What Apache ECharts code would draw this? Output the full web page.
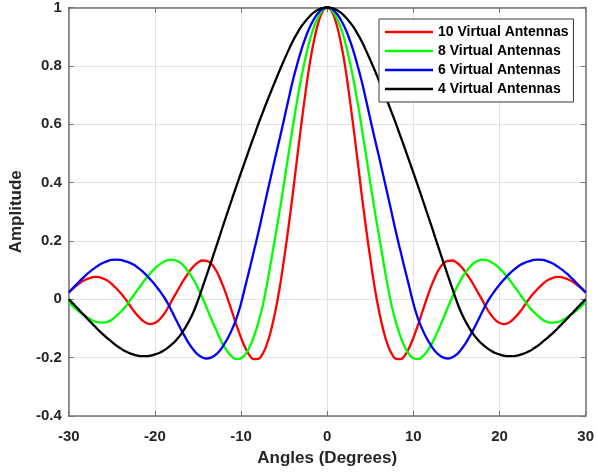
<!DOCTYPE html>
<html>
<head>
<meta charset="utf-8">
<script src="https://cdn.jsdelivr.net/npm/echarts@6/dist/echarts.min.js"></script>
<style>
  html, body { margin: 0; padding: 0; background: #ffffff; }
  #chart { width: 597px; height: 475px; }
</style>
</head>
<body>
<div id="chart"></div>
<script>
// Beam pattern of virtual arrays, amplitude versus steering angle (degrees), sampled every 0.5 degree
const angles = [
  -30, -29.5, -29, -28.5, -28, -27.5, -27, -26.5, -26, -25.5, -25, -24.5, -24, -23.5, -23, -22.5, -22, -21.5, -21, -20.5,
  -20, -19.5, -19, -18.5, -18, -17.5, -17, -16.5, -16, -15.5, -15, -14.5, -14, -13.5, -13, -12.5, -12, -11.5, -11, -10.5,
  -10, -9.5, -9, -8.5, -8, -7.5, -7, -6.5, -6, -5.5, -5, -4.5, -4, -3.5, -3, -2.5, -2, -1.5, -1, -0.5,
  0,
  0.5, 1, 1.5, 2, 2.5, 3, 3.5, 4, 4.5, 5, 5.5, 6, 6.5, 7, 7.5, 8, 8.5, 9, 9.5, 10,
  10.5, 11, 11.5, 12, 12.5, 13, 13.5, 14, 14.5, 15, 15.5, 16, 16.5, 17, 17.5, 18, 18.5, 19, 19.5, 20,
  20.5, 21, 21.5, 22, 22.5, 23, 23.5, 24, 24.5, 25, 25.5, 26, 26.5, 27, 27.5, 28, 28.5, 29, 29.5, 30
];

const tenAntennas = [
  0.023, 0.037, 0.049, 0.060, 0.068, 0.073, 0.077, 0.076, 0.071, 0.064, 0.052, 0.038, 0.022, 0.004, -0.017, -0.038, -0.056, -0.071, -0.081, -0.085,
  -0.081, -0.070, -0.053, -0.030, -0.003, 0.023, 0.049, 0.073, 0.095, 0.113, 0.126, 0.133, 0.132, 0.123, 0.104, 0.075, 0.039, -0.003, -0.047, -0.091,
  -0.132, -0.167, -0.193, -0.205, -0.204, -0.187, -0.154, -0.104, -0.038, 0.042, 0.140, 0.246, 0.360, 0.482, 0.600, 0.712, 0.813, 0.891, 0.951, 0.988,
  1,
  0.988, 0.951, 0.891, 0.813, 0.712, 0.600, 0.482, 0.360, 0.246, 0.140, 0.042, -0.038, -0.104, -0.154, -0.187, -0.204, -0.205, -0.193, -0.167, -0.132,
  -0.091, -0.047, -0.003, 0.039, 0.075, 0.104, 0.123, 0.132, 0.133, 0.126, 0.113, 0.095, 0.073, 0.049, 0.023, -0.003, -0.030, -0.053, -0.070, -0.081,
  -0.085, -0.081, -0.071, -0.056, -0.038, -0.017, 0.004, 0.022, 0.038, 0.052, 0.064, 0.071, 0.076, 0.077, 0.073, 0.068, 0.060, 0.049, 0.037, 0.023
];

const eightAntennas = [
  -0.010, -0.024, -0.037, -0.049, -0.060, -0.068, -0.076, -0.079, -0.080, -0.077, -0.070, -0.058, -0.044, -0.028, -0.008, 0.012, 0.033, 0.053, 0.073, 0.090,
  0.106, 0.119, 0.128, 0.134, 0.136, 0.132, 0.124, 0.109, 0.090, 0.066, 0.038, 0.006, -0.028, -0.064, -0.098, -0.131, -0.160, -0.182, -0.198, -0.205,
  -0.202, -0.188, -0.163, -0.127, -0.081, -0.024, 0.050, 0.133, 0.220, 0.307, 0.400, 0.496, 0.590, 0.679, 0.760, 0.830, 0.890, 0.936, 0.970, 0.992,
  1,
  0.992, 0.970, 0.936, 0.890, 0.830, 0.760, 0.679, 0.590, 0.496, 0.400, 0.307, 0.220, 0.133, 0.050, -0.024, -0.081, -0.127, -0.163, -0.188, -0.202,
  -0.205, -0.198, -0.182, -0.160, -0.131, -0.098, -0.064, -0.028, 0.006, 0.038, 0.066, 0.090, 0.109, 0.124, 0.132, 0.136, 0.134, 0.128, 0.119, 0.106,
  0.090, 0.073, 0.053, 0.033, 0.012, -0.008, -0.028, -0.044, -0.058, -0.070, -0.077, -0.080, -0.079, -0.076, -0.068, -0.060, -0.049, -0.037, -0.024, -0.010
];

const sixAntennas = [
  0.023, 0.039, 0.054, 0.069, 0.083, 0.096, 0.107, 0.117, 0.125, 0.131, 0.135, 0.136, 0.135, 0.131, 0.126, 0.119, 0.109, 0.097, 0.083, 0.067,
  0.050, 0.031, 0.010, -0.014, -0.043, -0.073, -0.102, -0.129, -0.154, -0.174, -0.190, -0.199, -0.203, -0.200, -0.191, -0.177, -0.156, -0.131, -0.100, -0.063,
  -0.014, 0.046, 0.105, 0.166, 0.228, 0.294, 0.360, 0.425, 0.490, 0.553, 0.618, 0.684, 0.748, 0.804, 0.855, 0.898, 0.934, 0.962, 0.983, 0.996,
  1,
  0.996, 0.983, 0.962, 0.934, 0.898, 0.855, 0.804, 0.748, 0.684, 0.618, 0.553, 0.490, 0.425, 0.360, 0.294, 0.228, 0.166, 0.105, 0.046, -0.014,
  -0.063, -0.100, -0.131, -0.156, -0.177, -0.191, -0.200, -0.203, -0.199, -0.190, -0.174, -0.154, -0.129, -0.102, -0.073, -0.043, -0.014, 0.010, 0.031, 0.050,
  0.067, 0.083, 0.097, 0.109, 0.119, 0.126, 0.131, 0.135, 0.136, 0.135, 0.131, 0.125, 0.117, 0.107, 0.096, 0.083, 0.069, 0.054, 0.039, 0.023
];

const fourAntennas = [
  0, -0.015, -0.030, -0.046, -0.061, -0.077, -0.092, -0.107, -0.121, -0.134, -0.146, -0.158, -0.168, -0.177, -0.184, -0.189, -0.193, -0.195, -0.195, -0.193,
  -0.189, -0.184, -0.176, -0.166, -0.154, -0.139, -0.121, -0.099, -0.073, -0.042, -0.004, 0.039, 0.082, 0.126, 0.170, 0.215, 0.260, 0.304, 0.348, 0.391,
  0.434, 0.476, 0.518, 0.559, 0.600, 0.639, 0.677, 0.714, 0.750, 0.786, 0.820, 0.853, 0.884, 0.911, 0.935, 0.954, 0.971, 0.984, 0.993, 0.998,
  1,
  0.998, 0.993, 0.984, 0.971, 0.954, 0.935, 0.911, 0.884, 0.853, 0.820, 0.786, 0.750, 0.714, 0.677, 0.639, 0.600, 0.559, 0.518, 0.476, 0.434,
  0.391, 0.348, 0.304, 0.260, 0.215, 0.170, 0.126, 0.082, 0.039, -0.004, -0.042, -0.073, -0.099, -0.121, -0.139, -0.154, -0.166, -0.176, -0.184, -0.189,
  -0.193, -0.195, -0.195, -0.193, -0.189, -0.184, -0.177, -0.168, -0.158, -0.146, -0.134, -0.121, -0.107, -0.092, -0.077, -0.061, -0.046, -0.030, -0.015, 0
];

const seriesNames = ['10 Virtual Antennas', '8 Virtual Antennas', '6 Virtual Antennas', '4 Virtual Antennas'];
const seriesValues = [tenAntennas, eightAntennas, sixAntennas, fourAntennas];
const seriesColors = ['#ff0000', '#00ff00', '#0000ff', '#000000'];

const FONT = '"Liberation Sans", Arial, Helvetica, sans-serif';
const AXIS_GREY = '#727272';
const TEXT_DARK = '#262626';

const chart = echarts.init(document.getElementById('chart'), null, { renderer: 'canvas' });

function pairs(values) {
  return angles.map((a, i) => [a, values[i]]);
}

// top and right axes close the box around the plot area
const boxAxisCommon = {
  axisLine: { show: true, onZero: false, lineStyle: { color: AXIS_GREY, width: 1.5 } },
  axisTick: { show: true, inside: true, length: 5, lineStyle: { color: AXIS_GREY, width: 1 } },
  axisLabel: { show: false },
  splitLine: { show: false }
};

const option = {
  animation: false,
  backgroundColor: '#ffffff',
  grid: { left: 68, right: 8, top: 6, bottom: 59, containLabel: false },
  legend: {
    data: seriesNames.map(n => ({ name: n, icon: 'rect' })),
    orient: 'vertical',
    left: 379,
    top: 19,
    padding: [6, 5, 6, 6],
    itemWidth: 48,
    itemHeight: 2.5,
    itemGap: 5,
    selectedMode: false,
    backgroundColor: '#ffffff',
    borderColor: '#3a3a3a',
    borderWidth: 1,
    textStyle: { fontFamily: FONT, fontWeight: 'bold', fontSize: 14, color: '#000000', lineHeight: 14 }
  },
  xAxis: [
    {
      type: 'value',
      min: -30, max: 30, interval: 10,
      position: 'bottom',
      name: 'Angles (Degrees)',
      nameLocation: 'middle',
      nameGap: 34,
      nameTextStyle: { fontFamily: FONT, fontWeight: 'bold', fontSize: 17, color: TEXT_DARK },
      axisLine: { show: true, onZero: false, lineStyle: { color: AXIS_GREY, width: 1.5 } },
      axisTick: { show: true, inside: true, length: 5, lineStyle: { color: AXIS_GREY, width: 1 } },
      axisLabel: { margin: 13, fontFamily: FONT, fontWeight: 'bold', fontSize: 15, color: TEXT_DARK },
      splitLine: { show: true, lineStyle: { color: '#e3e3e3', width: 1 } }
    },
    Object.assign({ type: 'value', min: -30, max: 30, interval: 10, position: 'top' }, boxAxisCommon)
  ],
  yAxis: [
    {
      type: 'value',
      min: -0.4, max: 1, interval: 0.2,
      position: 'left',
      name: 'Amplitude',
      nameLocation: 'middle',
      nameGap: 40,
      nameTextStyle: { fontFamily: FONT, fontWeight: 'bold', fontSize: 17, color: TEXT_DARK },
      axisLine: { show: true, onZero: false, lineStyle: { color: AXIS_GREY, width: 1.5 } },
      axisTick: { show: true, inside: true, length: 5, lineStyle: { color: AXIS_GREY, width: 1 } },
      axisLabel: {
        margin: 7, fontFamily: FONT, fontWeight: 'bold', fontSize: 15, color: TEXT_DARK,
        formatter: v => String(Math.round(v * 10) / 10)
      },
      splitLine: { show: true, lineStyle: { color: '#e3e3e3', width: 1 } }
    },
    Object.assign({ type: 'value', min: -0.4, max: 1, interval: 0.2, position: 'right' }, boxAxisCommon)
  ],
  series: seriesNames.map((name, i) => ({
    name: name,
    type: 'line',
    xAxisIndex: 0,
    yAxisIndex: 0,
    data: pairs(seriesValues[i]),
    showSymbol: false,
    symbol: 'none',
    smooth: 0.5,
    clip: false,
    lineStyle: { color: seriesColors[i], width: 2.3 },
    itemStyle: { color: seriesColors[i] },
    emphasis: { disabled: true }
  }))
};

chart.setOption(option);
</script>
</body>
</html>
